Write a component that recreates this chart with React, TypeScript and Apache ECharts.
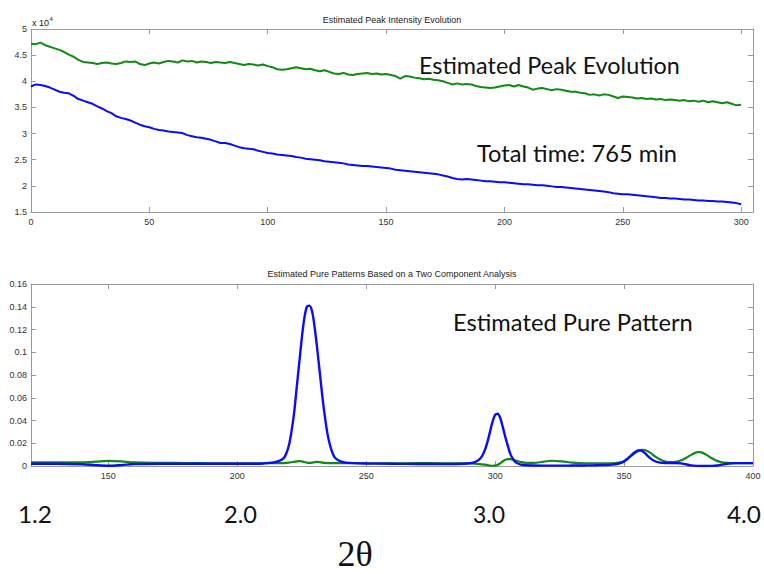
import React, { useEffect, useRef } from "react";
import * as echarts from "echarts";

// ---- Top panel: estimated peak intensity (x 10^4) per scan, sampled every 2 scans ----
const scanStep = 2;
const greenPeak = [
  4.72, 4.71, 4.74, 4.69, 4.66, 4.63, 4.60, 4.56, 4.51, 4.47,
  4.41, 4.37, 4.36, 4.35, 4.33, 4.35, 4.36, 4.34, 4.33, 4.35,
  4.38, 4.37, 4.38, 4.33, 4.31, 4.34, 4.36, 4.34, 4.37, 4.39,
  4.38, 4.36, 4.40, 4.38, 4.39, 4.36, 4.38, 4.37, 4.35, 4.37,
  4.36, 4.35, 4.37, 4.35, 4.33, 4.31, 4.33, 4.32, 4.30, 4.32,
  4.29, 4.27, 4.23, 4.22, 4.23, 4.25, 4.27, 4.25, 4.23, 4.24,
  4.21, 4.19, 4.21, 4.18, 4.15, 4.14, 4.16, 4.13, 4.12, 4.14,
  4.15, 4.16, 4.14, 4.15, 4.13, 4.14, 4.12, 4.10, 4.05, 4.10,
  4.09, 4.07, 4.06, 4.04, 4.05, 4.03, 4.02, 4.00, 3.97, 3.94,
  3.96, 3.94, 3.95, 3.94, 3.91, 3.89, 3.88, 3.87, 3.88, 3.90,
  3.92, 3.93, 3.90, 3.93, 3.90, 3.88, 3.84, 3.86, 3.87, 3.85,
  3.83, 3.85, 3.84, 3.82, 3.80, 3.80, 3.78, 3.77, 3.74, 3.75,
  3.73, 3.75, 3.74, 3.71, 3.68, 3.71, 3.70, 3.69, 3.67, 3.68,
  3.66, 3.67, 3.65, 3.66, 3.64, 3.65, 3.64, 3.63, 3.64, 3.62,
  3.63, 3.61, 3.63, 3.60, 3.62, 3.60, 3.58, 3.60, 3.57, 3.54,
  3.55,
];
const bluePeak = [
  3.90, 3.94, 3.93, 3.91, 3.88, 3.84, 3.80, 3.78, 3.77, 3.72,
  3.66, 3.63, 3.60, 3.57, 3.52, 3.48, 3.43, 3.39, 3.33, 3.30,
  3.28, 3.25, 3.21, 3.17, 3.14, 3.12, 3.09, 3.07, 3.06, 3.04,
  3.03, 3.02, 3.01, 2.97, 2.95, 2.93, 2.92, 2.90, 2.88, 2.85,
  2.82, 2.82, 2.80, 2.77, 2.74, 2.72, 2.71, 2.70, 2.67, 2.65,
  2.63, 2.62, 2.60, 2.59, 2.58, 2.57, 2.55, 2.54, 2.52, 2.51,
  2.50, 2.49, 2.47, 2.46, 2.45, 2.44, 2.43, 2.41, 2.40, 2.39,
  2.38, 2.38, 2.37, 2.36, 2.35, 2.34, 2.33, 2.31, 2.30, 2.29,
  2.28, 2.27, 2.26, 2.25, 2.24, 2.23, 2.22, 2.20, 2.18, 2.15,
  2.13, 2.12, 2.13, 2.12, 2.11, 2.10, 2.09, 2.09, 2.08, 2.07,
  2.07, 2.06, 2.05, 2.04, 2.03, 2.03, 2.02, 2.01, 2.01, 2.00,
  1.99, 1.98, 1.98, 1.97, 1.96, 1.95, 1.94, 1.93, 1.92, 1.91,
  1.90, 1.89, 1.88, 1.86, 1.85, 1.84, 1.84, 1.83, 1.82, 1.81,
  1.80, 1.79, 1.78, 1.77, 1.77, 1.76, 1.76, 1.75, 1.74, 1.74,
  1.73, 1.72, 1.72, 1.71, 1.71, 1.70, 1.70, 1.69, 1.68, 1.67,
  1.65,
];

// ---- Bottom panel: estimated pure patterns vs channel ----
const channel = [
  120, 130, 140, 145, 150, 155, 160, 170, 180, 190,
  200, 205, 210, 212, 214, 216, 218, 219, 220, 221,
  222, 223, 224, 225, 226, 227, 228, 229, 230, 231,
  232, 233, 234, 235, 236, 237, 238, 240, 242, 245,
  250, 260, 270, 280, 288, 290, 292, 294, 295, 296,
  297, 298, 299, 300, 301, 302, 303, 304, 305, 306,
  307, 308, 310, 312, 315, 318, 322, 326, 330, 335,
  340, 345, 348, 350, 352, 354, 356, 357, 358, 360,
  362, 364, 366, 368, 370, 372, 374, 376, 378, 379,
  380, 382, 384, 386, 388, 390, 393, 396, 400,
];
const bluePattern = [
  0.0020, 0.0020, 0.0015, 0.0007, 0.0002, 0.0008, 0.0017, 0.0020, 0.0020, 0.0020,
  0.0020, 0.0020, 0.0022, 0.0026, 0.0031, 0.0042, 0.0070, 0.0110, 0.0180, 0.0300,
  0.0460, 0.0680, 0.0900, 0.1120, 0.1300, 0.1400, 0.1410, 0.1360, 0.1220, 0.1030,
  0.0820, 0.0610, 0.0430, 0.0280, 0.0180, 0.0110, 0.0070, 0.0040, 0.0030, 0.0025,
  0.0022, 0.0020, 0.0018, 0.0018, 0.0020, 0.0024, 0.0032, 0.0060, 0.0090, 0.0140,
  0.0210, 0.0300, 0.0390, 0.0450, 0.0460, 0.0420, 0.0340, 0.0250, 0.0170, 0.0100,
  0.0060, 0.0032, 0.0012, 0.0006, 0.0004, 0.0003, 0.0003, 0.0003, 0.0004, 0.0005,
  0.0007, 0.0012, 0.0022, 0.0040, 0.0078, 0.0118, 0.0138, 0.0132, 0.0115, 0.0072,
  0.0042, 0.0030, 0.0026, 0.0026, 0.0026, 0.0023, 0.0015, 0.0006, 0.0001, 0.0000,
  0.0000, 0.0000, 0.0001, 0.0004, 0.0012, 0.0020, 0.0025, 0.0025, 0.0025,
];
const greenPattern = [
  0.0032, 0.0032, 0.0033, 0.0038, 0.0045, 0.0040, 0.0031, 0.0028, 0.0026, 0.0024,
  0.0023, 0.0023, 0.0024, 0.0025, 0.0025, 0.0025, 0.0026, 0.0027, 0.0030, 0.0033,
  0.0037, 0.0040, 0.0042, 0.0040, 0.0035, 0.0030, 0.0028, 0.0030, 0.0034, 0.0036,
  0.0034, 0.0030, 0.0027, 0.0026, 0.0026, 0.0025, 0.0025, 0.0024, 0.0024, 0.0024,
  0.0024, 0.0023, 0.0025, 0.0024, 0.0023, 0.0022, 0.0020, 0.0017, 0.0015, 0.0012,
  0.0008, 0.0004, 0.0002, 0.0003, 0.0010, 0.0025, 0.0042, 0.0055, 0.0060, 0.0060,
  0.0055, 0.0048, 0.0035, 0.0027, 0.0028, 0.0035, 0.0046, 0.0040, 0.0030, 0.0024,
  0.0023, 0.0024, 0.0030, 0.0042, 0.0075, 0.0110, 0.0138, 0.0143, 0.0140, 0.0120,
  0.0085, 0.0058, 0.0040, 0.0034, 0.0036, 0.0048, 0.0070, 0.0098, 0.0120, 0.0123,
  0.0120, 0.0098, 0.0068, 0.0045, 0.0032, 0.0027, 0.0025, 0.0025, 0.0025,
];

// ---- Texts ----
const topTitle = "Estimated Peak Intensity Evolution";
const bottomTitle = "Estimated Pure Patterns Based on a Two Component Analysis";
const topNote1 = "Estimated Peak Evolution";
const topNote2 = "Total time: 765 min";
const bottomNote = "Estimated Pure Pattern";
const thetaLabels = ["1.2", "2.0", "3.0", "4.0"];
const thetaLabelSpans: [number, number][] = [[18, 52], [224, 257], [473, 505], [727, 761]];
const axisName = "2θ";

const BLUE = "#0a0aff";
const GREEN = "#118a11";
const AXIS = "#9a9a9a";
const LABEL = "#333333";
const SANS = "Liberation Sans, Arial, sans-serif";
const BIG = "Lato";

function fitScale(text: string, font: string, target: number): number {
  const ctx = document.createElement("canvas").getContext("2d");
  if (!ctx) return 1;
  ctx.font = font;
  const w = ctx.measureText(text).width;
  return w > 0 ? target / w : 1;
}

function bigText(text: string, x0: number, x1: number, yc: number, size: number, family = BIG) {
  const sx = fitScale(text, `${size}px ${family}`, x1 - x0);
  return {
    type: "text",
    x: x0,
    y: yc,
    scaleX: sx,
    silent: true,
    style: {
      text,
      fontSize: size,
      fontFamily: family,
      fill: "#111",
      align: "left",
      verticalAlign: "middle",
      textAlign: "left",
      textVerticalAlign: "middle",
    },
  };
}

function plainText(text: string, x: number, y: number, size: number, family: string, fill: string, align = "center") {
  return {
    type: "text",
    x,
    y,
    silent: true,
    style: {
      text,
      fontSize: size,
      fontFamily: family,
      fill,
      align,
      verticalAlign: "middle",
      textAlign: align,
      textVerticalAlign: "middle",
    },
  };
}

function makeXAxis(grid: number, pos: "bottom" | "top", min: number, max: number, extra: any) {
  return {
    type: "value",
    gridIndex: grid,
    position: pos,
    min,
    max,
    ...extra,
    axisLine: { show: true, onZero: false, lineStyle: { color: AXIS, width: 1 } },
    axisTick: { show: true, inside: true, length: 5, lineStyle: { color: AXIS } },
    axisLabel: {
      show: pos === "bottom",
      color: LABEL,
      fontSize: 9,
      fontFamily: SANS,
      margin: 5,
      showMinLabel: extra.showMinLabel,
      showMaxLabel: extra.showMaxLabel,
    },
    splitLine: { show: false },
  };
}

function makeYAxis(grid: number, pos: "left" | "right", min: number, max: number, interval: number) {
  return {
    type: "value",
    gridIndex: grid,
    position: pos,
    min,
    max,
    interval,
    axisLine: { show: true, onZero: false, lineStyle: { color: AXIS, width: 1 } },
    axisTick: { show: true, inside: true, length: 5, lineStyle: { color: AXIS } },
    axisLabel: {
      show: pos === "left",
      color: LABEL,
      fontSize: 9,
      fontFamily: SANS,
      margin: 4,
    },
    splitLine: { show: false },
  };
}

export default function App() {
  const ref = useRef<HTMLDivElement>(null);
  useEffect(() => {
    if (!ref.current) return;
    const chart = echarts.init(ref.current, null, { renderer: "svg" });
    const topX = { interval: 50, showMaxLabel: false, showMinLabel: true };
    const botX = { splitNumber: 5, showMinLabel: false, showMaxLabel: true };
    const option: any = {
      animation: false,
      backgroundColor: "#ffffff",
      grid: [
        { left: 31, right: 11, top: 29, height: 183 },
        { left: 31, right: 11, top: 284, height: 182 },
      ],
      xAxis: [
        makeXAxis(0, "bottom", 0, 305, topX),
        makeXAxis(0, "top", 0, 305, topX),
        makeXAxis(1, "bottom", 120, 400, botX),
        makeXAxis(1, "top", 120, 400, botX),
      ],
      yAxis: [
        makeYAxis(0, "left", 1.5, 5, 0.5),
        makeYAxis(0, "right", 1.5, 5, 0.5),
        makeYAxis(1, "left", 0, 0.16, 0.02),
        makeYAxis(1, "right", 0, 0.16, 0.02),
      ],
      series: [
        {
          type: "line",
          name: "green peak",
          xAxisIndex: 0,
          yAxisIndex: 0,
          showSymbol: false,
          data: greenPeak.map((v, i) => [i * scanStep, v]),
          lineStyle: { color: GREEN, width: 2 },
          itemStyle: { color: GREEN },
        },
        {
          type: "line",
          name: "blue peak",
          xAxisIndex: 0,
          yAxisIndex: 0,
          showSymbol: false,
          data: bluePeak.map((v, i) => [i * scanStep, v]),
          lineStyle: { color: BLUE, width: 2 },
          itemStyle: { color: BLUE },
        },
        {
          type: "line",
          name: "green pattern",
          xAxisIndex: 2,
          yAxisIndex: 2,
          showSymbol: false,
          smooth: 0.3,
          data: channel.map((c, i) => [c, greenPattern[i]]),
          lineStyle: { color: GREEN, width: 2.2 },
          itemStyle: { color: GREEN },
          z: 2,
        },
        {
          type: "line",
          name: "blue pattern",
          xAxisIndex: 2,
          yAxisIndex: 2,
          showSymbol: false,
          smooth: 0.3,
          data: channel.map((c, i) => [c, bluePattern[i]]),
          lineStyle: { color: BLUE, width: 2.4 },
          itemStyle: { color: BLUE },
          z: 3,
        },
      ],
      graphic: [
        plainText(topTitle, 392, 20, 9, SANS, "#222"),
        plainText(bottomTitle, 392, 274, 9, SANS, "#222"),
        plainText("x 10", 32, 23, 9, SANS, "#222", "left"),
        plainText("4", 49.5, 19, 6, SANS, "#222", "left"),
        bigText(topNote1, 419, 680, 65, 23),
        bigText(topNote2, 477, 677, 152, 24),
        bigText(bottomNote, 453, 693, 322, 23),
        ...thetaLabels.map((t, i) => bigText(t, thetaLabelSpans[i][0], thetaLabelSpans[i][1], 513.5, 24)),
        plainText(axisName, 355, 554, 36, "Liberation Serif, DejaVu Serif, serif", "#111"),
      ],
    };
    chart.setOption(option);
    return () => chart.dispose();
  }, []);
  return (
    <div
      ref={ref}
      style={{ position: "fixed", left: 0, top: 0, width: 764, height: 574, background: "#fff" }}
    />
  );
}
